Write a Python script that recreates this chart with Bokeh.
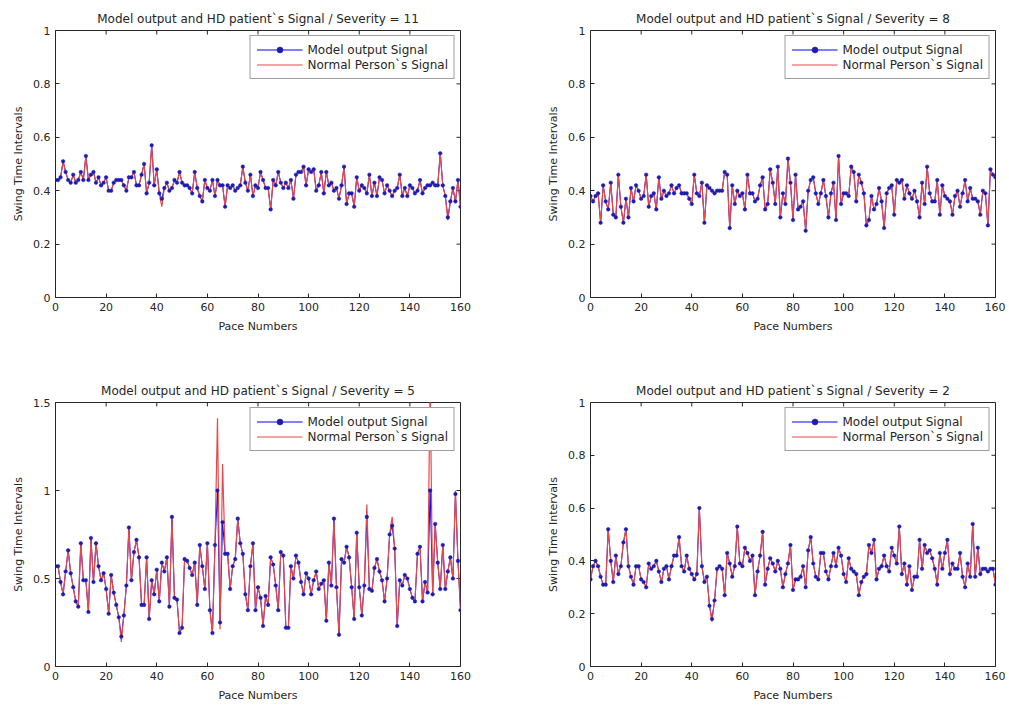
from bokeh.plotting import figure
from bokeh.layouts import gridplot
from bokeh.models import Range1d, FixedTicker, CustomJSTickFormatter
from bokeh.embed import file_html
from bokeh.resources import INLINE

pace = list(range(161))
x_ticks = [0, 20, 40, 60, 80, 100, 120, 140, 160]

titles = [
    "Model output and HD patient`s Signal / Severity = 11",
    "Model output and HD patient`s Signal / Severity = 8",
    "Model output and HD patient`s Signal / Severity = 5",
    "Model output and HD patient`s Signal / Severity = 2",
]
legend_model = "Model output Signal"
legend_normal = "Normal Person`s Signal"
x_label = "Pace Numbers"
y_label = "Swing Time Intervals"

model_11 = [
    0.44, 0.44, 0.45, 0.51, 0.47, 0.44, 0.43, 0.46, 0.43, 0.44,
    0.47, 0.44, 0.53, 0.44, 0.46, 0.47, 0.43, 0.45, 0.42, 0.43,
    0.45, 0.40, 0.40, 0.43, 0.44, 0.44, 0.44, 0.42, 0.40, 0.45,
    0.45, 0.47, 0.42, 0.42, 0.46, 0.50, 0.39, 0.43, 0.57, 0.42,
    0.48, 0.39, 0.37, 0.41, 0.43, 0.40, 0.41, 0.44, 0.43, 0.47,
    0.43, 0.42, 0.42, 0.41, 0.39, 0.47, 0.41, 0.38, 0.36, 0.44,
    0.41, 0.40, 0.44, 0.38, 0.44, 0.42, 0.42, 0.34, 0.42, 0.41,
    0.42, 0.40, 0.41, 0.42, 0.49, 0.43, 0.40, 0.46,
    0.38, 0.42, 0.41, 0.47, 0.44, 0.41, 0.41, 0.33, 0.44, 0.42,
    0.47, 0.43, 0.41, 0.43, 0.41, 0.44, 0.37, 0.46, 0.47, 0.47,
    0.49, 0.42, 0.48, 0.47, 0.48, 0.40, 0.42, 0.47, 0.39, 0.47,
    0.42, 0.43, 0.40, 0.41, 0.37, 0.42, 0.49, 0.35, 0.39, 0.39,
    0.34, 0.45, 0.40, 0.42, 0.41, 0.39, 0.46, 0.38, 0.43, 0.38,
    0.45, 0.44, 0.39, 0.42, 0.40, 0.38, 0.40, 0.41, 0.46, 0.38,
    0.41, 0.38, 0.42, 0.41, 0.39, 0.40, 0.44, 0.39, 0.41, 0.42,
    0.42, 0.43, 0.42, 0.42, 0.54, 0.42, 0.38, 0.30, 0.36, 0.41,
    0.36, 0.44, 0.34,
]
normal_11_diff = {42: 0.34, 155: 0.29}

model_8 = [
    0.38, 0.36, 0.38, 0.39, 0.28, 0.42, 0.36, 0.33, 0.43, 0.31,
    0.30, 0.46, 0.34, 0.28, 0.37, 0.30, 0.41, 0.36, 0.42, 0.40,
    0.37, 0.38, 0.46, 0.34, 0.38, 0.39, 0.33, 0.45, 0.37, 0.40,
    0.38, 0.39, 0.42, 0.39, 0.41, 0.42, 0.39, 0.39, 0.39, 0.37,
    0.35, 0.46, 0.39, 0.38, 0.43, 0.28, 0.42, 0.41, 0.40, 0.39,
    0.40, 0.40, 0.40, 0.47, 0.46, 0.26, 0.42, 0.35, 0.40, 0.38,
    0.39, 0.33, 0.46, 0.39, 0.39, 0.36, 0.37, 0.42, 0.45, 0.33,
    0.35, 0.48, 0.43, 0.35, 0.49, 0.30, 0.39, 0.35,
    0.52, 0.43, 0.29, 0.46, 0.33, 0.34, 0.36, 0.25, 0.40, 0.44,
    0.45, 0.39, 0.35, 0.39, 0.44, 0.38, 0.30, 0.39, 0.43, 0.29,
    0.53, 0.35, 0.39, 0.39, 0.38, 0.49, 0.47, 0.36, 0.46, 0.43,
    0.39, 0.27, 0.29, 0.38, 0.33, 0.35, 0.41, 0.36, 0.26, 0.39,
    0.41, 0.42, 0.31, 0.44, 0.43, 0.44, 0.37, 0.42, 0.39, 0.37,
    0.40, 0.36, 0.30, 0.43, 0.35, 0.49, 0.39, 0.36, 0.36, 0.44,
    0.31, 0.42, 0.38, 0.37, 0.36, 0.31, 0.38, 0.40, 0.34, 0.39,
    0.44, 0.36, 0.41, 0.37, 0.37, 0.36, 0.31, 0.40, 0.39, 0.27,
    0.48, 0.46, 0.45,
]
normal_8_diff = {}

model_5 = [
    0.57, 0.57, 0.48, 0.41, 0.54, 0.66, 0.53, 0.45, 0.37, 0.34,
    0.70, 0.49, 0.49, 0.31, 0.73, 0.48, 0.70, 0.57, 0.49, 0.53,
    0.44, 0.30, 0.52, 0.42, 0.35, 0.28, 0.17, 0.29, 0.46, 0.79,
    0.49, 0.65, 0.72, 0.62, 0.35, 0.35, 0.62, 0.27, 0.49, 0.41,
    0.55, 0.37, 0.59, 0.54, 0.62, 0.34, 0.85, 0.39, 0.38, 0.19,
    0.22, 0.61, 0.60, 0.56, 0.52, 0.59, 0.35, 0.69, 0.57, 0.44,
    0.70, 0.32, 0.19, 0.69, 1.00, 0.25, 0.82, 0.64, 0.64, 0.44,
    0.57, 0.61, 0.84, 0.70, 0.64, 0.41, 0.32, 0.57, 0.70, 0.32,
    0.45, 0.39, 0.23, 0.40, 0.35, 0.62, 0.58, 0.46, 0.32, 0.65,
    0.63, 0.22, 0.22, 0.57, 0.50, 0.63, 0.59, 0.48, 0.41, 0.53,
    0.50, 0.41, 0.49, 0.54, 0.44, 0.47, 0.49, 0.26, 0.59, 0.46,
    0.84, 0.45, 0.18, 0.61, 0.59, 0.68, 0.62, 0.45, 0.27, 0.76,
    0.45, 0.29, 0.46, 0.85, 0.44, 0.43, 0.56, 0.61, 0.54, 0.49,
    0.37, 0.50, 0.75, 0.80, 0.67, 0.23, 0.49, 0.46, 0.52, 0.50,
    0.44, 0.39, 0.37, 0.64, 0.68, 0.37, 0.48, 0.42, 1.00, 0.41,
    0.81, 0.59, 0.44, 0.69, 0.44, 0.54, 0.62, 0.50, 0.98, 0.60,
    0.32,
]
normal_5_diff = {26: 0.14, 64: 1.41, 65: 0.21, 66: 1.15, 123: 0.92,
                 133: 0.85, 148: 1.62, 158: 1.00}

model_2 = [
    0.33, 0.38, 0.40, 0.38, 0.34, 0.31, 0.31, 0.52, 0.40, 0.32,
    0.42, 0.35, 0.38, 0.47, 0.52, 0.38, 0.34, 0.31, 0.38, 0.38,
    0.33, 0.32, 0.30, 0.39, 0.37, 0.38, 0.40, 0.36, 0.32, 0.37,
    0.38, 0.33, 0.38, 0.42, 0.42, 0.49, 0.38, 0.36, 0.42, 0.37,
    0.35, 0.33, 0.35, 0.60, 0.38, 0.32, 0.34, 0.23, 0.18, 0.25,
    0.37, 0.38, 0.37, 0.27, 0.43, 0.39, 0.34, 0.38, 0.53, 0.39,
    0.38, 0.45, 0.43, 0.40, 0.42, 0.27, 0.36, 0.42, 0.51, 0.31,
    0.37, 0.41, 0.39, 0.36, 0.40, 0.37, 0.30, 0.35, 0.39, 0.46,
    0.29, 0.33, 0.33, 0.34, 0.38, 0.30, 0.44, 0.49, 0.39, 0.34,
    0.33, 0.43, 0.43, 0.36, 0.33, 0.38, 0.43, 0.38, 0.45, 0.42,
    0.35, 0.32, 0.41, 0.37, 0.36, 0.35, 0.27, 0.32, 0.34, 0.35,
    0.46, 0.43, 0.48, 0.33, 0.37, 0.38, 0.42, 0.38, 0.36, 0.45,
    0.42, 0.39, 0.53, 0.35, 0.39, 0.31, 0.38, 0.29, 0.34, 0.34,
    0.48, 0.37, 0.46, 0.43, 0.44, 0.41, 0.37, 0.31, 0.43, 0.37,
    0.43, 0.48, 0.35, 0.39, 0.37, 0.37, 0.43, 0.34, 0.30, 0.39,
    0.34, 0.54, 0.34, 0.45, 0.35, 0.37, 0.37, 0.36, 0.37, 0.37,
    0.31,
]
normal_2_diff = {48: 0.17}

y_max = [1.0, 1.0, 1.5, 1.0]
y_ticks = [[0, 0.2, 0.4, 0.6, 0.8, 1.0], [0, 0.2, 0.4, 0.6, 0.8, 1.0],
           [0, 0.5, 1.0, 1.5], [0, 0.2, 0.4, 0.6, 0.8, 1.0]]

FONT = "DejaVu Sans"
TXT = "#262626"
AX = "#262626"
BLUE = "#0000ff"
MARK = "#1c1cb0"
RED = "#e84848"
TICK_PX = 4
FRAME_W = 405


def series_normal(model, diff):
    out = list(model)
    for k, v in diff.items():
        out[k] = v
    return out


def style_axis(ax):
    ax.major_tick_in = TICK_PX
    ax.major_tick_out = 0
    ax.minor_tick_line_color = None
    ax.axis_line_color = None
    ax.major_tick_line_color = AX
    ax.major_label_text_font = FONT
    ax.major_label_text_font_size = "11px"
    ax.major_label_text_color = TXT
    ax.axis_label_text_font = FONT
    ax.axis_label_text_font_style = "normal"
    ax.axis_label_text_color = TXT
    ax.axis_label_text_font_size = "11px"


fmt_code = "return String(Math.round(tick*10)/10)"


def make_panel(i, model, normal, width, height, bl, br, bt, bb, frame_h):
    ymax = y_max[i]
    p = figure(width=width, height=height, output_backend="svg",
               toolbar_location=None, min_border_left=bl, min_border_right=br,
               min_border_top=bt, min_border_bottom=bb,
               x_range=Range1d(0, 160), y_range=Range1d(0, ymax))
    p.title.text = titles[i]
    p.title.align = "center"
    p.title.text_font = FONT
    p.title.text_font_size = "12px"
    p.title.text_font_style = "normal"
    p.title.text_color = TXT
    p.title.standoff = 10
    p.grid.visible = False
    p.outline_line_color = AX
    p.outline_line_width = 1

    p.xaxis.ticker = FixedTicker(ticks=x_ticks)
    p.yaxis.ticker = FixedTicker(ticks=y_ticks[i])
    p.yaxis.formatter = CustomJSTickFormatter(code=fmt_code)
    p.xaxis.axis_label = x_label
    p.yaxis.axis_label = y_label
    style_axis(p.xaxis[0])
    style_axis(p.yaxis[0])
    p.xaxis.major_label_standoff = 5
    p.xaxis.axis_label_standoff = 6
    p.yaxis.major_label_standoff = 5
    p.yaxis.axis_label_standoff = 5

    # inward ticks on the top and right edges of the box (MATLAB style)
    dy = ymax * TICK_PX / frame_h
    dx = 160.0 * TICK_PX / FRAME_W
    p.segment(x0=x_ticks, y0=[ymax] * len(x_ticks), x1=x_ticks,
              y1=[ymax - dy] * len(x_ticks), line_color=AX, line_width=1)
    yt = y_ticks[i]
    p.segment(x0=[160] * len(yt), y0=yt, x1=[160 - dx] * len(yt), y1=yt,
              line_color=AX, line_width=1)

    p.line(pace, model, line_color=BLUE, line_width=1, legend_label=legend_model)
    p.line(pace, normal, line_color=RED, line_width=1.2,
           legend_label=legend_normal)
    p.scatter(pace, model, marker="circle", size=3.6, fill_color=MARK,
              line_color=MARK, line_width=0.5, legend_label=legend_model)

    lg = p.legend[0]
    lg.location = "top_right"
    lg.margin = 5
    lg.padding = 6
    lg.spacing = 0
    lg.label_text_font = FONT
    lg.label_text_font_size = "12px"
    lg.label_text_color = TXT
    lg.label_height = 15
    lg.glyph_height = 15
    lg.glyph_width = 46
    lg.label_standoff = 5
    lg.border_line_color = "#404040"
    lg.border_line_width = 1
    lg.background_fill_alpha = 1
    return p


models = [model_11, model_8, model_5, model_2]
diffs = [normal_11_diff, normal_8_diff, normal_5_diff, normal_2_diff]
for m in models:
    assert len(m) == 161, len(m)
normals = [series_normal(m, d) for m, d in zip(models, diffs)]

p1 = make_panel(0, models[0], normals[0], 500, 375, 55, 40, 30, 78, 267)
p2 = make_panel(1, models[1], normals[1], 505, 375, 90, 10, 30, 78, 267)
p3 = make_panel(2, models[2], normals[2], 500, 329, 55, 40, 27, 36, 266)
p4 = make_panel(3, models[3], normals[3], 505, 329, 90, 10, 27, 36, 266)

grid = gridplot([[p1, p2], [p3, p4]], toolbar_location=None)
open("out.html", "w").write(file_html(grid, INLINE))
